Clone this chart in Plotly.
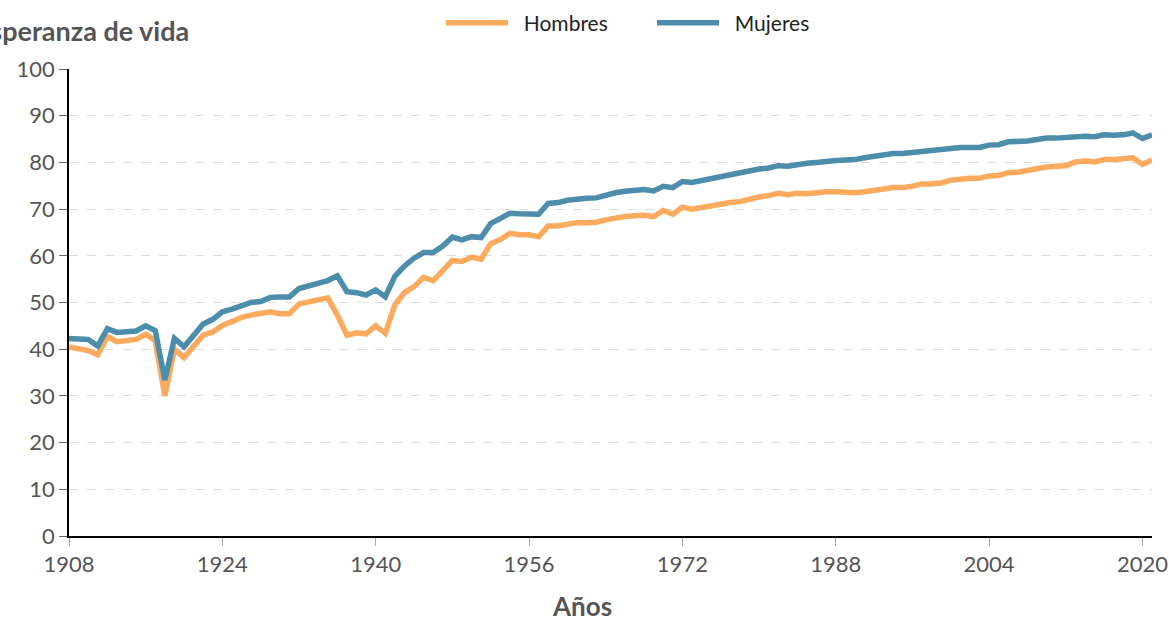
import plotly.graph_objects as go

years = list(range(1908, 2022))

hombres = [
    40.5, 40.0, 39.7, 38.8, 42.7, 41.6, 41.8, 42.1, 43.2, 41.8,   # 1908-1917
    30.0, 40.0, 38.2, 40.7, 43.0, 43.7, 45.1, 45.9, 46.8, 47.3,   # 1918-1927
    47.8, 48.0, 47.6, 47.6, 49.7, 50.2, 50.7, 51.0, 47.3, 43.0,   # 1928-1937
    43.5, 43.3, 45.0, 43.4, 49.5, 52.1, 53.4, 55.4, 54.7, 57.0,   # 1938-1947
    59.0, 58.8, 59.7, 59.3, 62.6, 63.5, 64.8, 64.5, 64.5, 64.1,   # 1948-1957
    66.4, 66.4, 66.7, 67.1, 67.1, 67.2, 67.7, 68.1, 68.4, 68.6,   # 1958-1967
    68.7, 68.4, 69.7, 68.9, 70.4, 70.0, 70.4, 70.7, 71.1, 71.4,   # 1968-1977
    71.6, 72.2, 72.6, 72.9, 73.4, 73.1, 73.4, 73.3, 73.6, 73.7,   # 1978-1987
    73.7, 73.5, 73.5, 73.7, 74.1, 74.3, 74.6, 74.6, 74.9, 75.4,   # 1988-1997
    75.4, 75.6, 76.2, 76.5, 76.6, 76.6, 77.1, 77.2, 77.8, 77.9,   # 1998-2007
    78.3, 78.6, 79.0, 79.2, 79.3, 80.1, 80.3, 80.1, 80.6, 80.6,   # 2008-2017
    80.8, 81.0, 79.6, 80.5,                                       # 2018-2021
]

mujeres = [
    42.3, 42.3, 42.1, 40.7, 44.4, 43.6, 43.7, 43.9, 45.0, 44.0,   # 1908-1917
    33.4, 42.3, 40.5, 43.0, 45.4, 46.4, 48.0, 48.6, 49.3, 50.0,   # 1918-1927
    50.2, 51.1, 51.2, 51.2, 53.0, 53.5, 54.2, 54.7, 55.7, 52.3,   # 1928-1937
    52.1, 51.6, 52.7, 51.2, 55.6, 57.8, 59.5, 60.7, 60.7, 62.1,   # 1938-1947
    64.0, 63.4, 64.1, 63.9, 66.9, 68.0, 69.1, 69.0, 69.0, 68.9,   # 1948-1957
    71.2, 71.4, 71.9, 72.2, 72.3, 72.4, 73.0, 73.5, 73.8, 74.0,   # 1958-1967
    74.2, 73.9, 74.9, 74.6, 75.9, 75.7, 76.1, 76.5, 77.1, 77.3,   # 1968-1977
    77.7, 78.2, 78.6, 78.8, 79.3, 79.2, 79.6, 79.8, 80.0, 80.3,   # 1978-1987
    80.4, 80.5, 80.6, 81.0, 81.3, 81.5, 81.9, 81.9, 82.1, 82.4,   # 1988-1997
    82.5, 82.7, 83.1, 83.2, 83.2, 83.2, 83.7, 83.8, 84.4, 84.4,   # 1998-2007
    84.6, 84.9, 85.2, 85.2, 85.3, 85.6, 85.6, 85.5, 85.9, 85.8,   # 2008-2017
    85.9, 86.3, 85.1, 85.9,                                       # 2018-2021
]

x_ticks = [1908, 1924, 1940, 1956, 1972, 1988, 2004, 2020]
y_ticks = [0, 10, 20, 30, 40, 50, 60, 70, 80, 90, 100]

FONT = "Lato, 'Open Sans', sans-serif"
W, H = 1169, 617
L, R, T, B = 69, 17, 69, 81

fig = go.Figure()
fig.add_trace(go.Scatter(x=years, y=hombres, mode="lines", name="\u00a0\u00a0Hombres",
                         line=dict(color="#FBAA5E", width=5.5)))
fig.add_trace(go.Scatter(x=years, y=mujeres, mode="lines", name="\u00a0\u00a0Mujeres",
                         line=dict(color="#4B8DAB", width=5.5)))

pw = W - L - R
ph = H - T - B

fig.update_layout(
    width=W, height=H,
    margin=dict(l=L, r=R, t=T, b=B, autoexpand=False),
    paper_bgcolor="white", plot_bgcolor="white",
    font=dict(family=FONT, color="#555555", size=20),
    legend=dict(orientation="h", xref="container", yref="container",
                x=652 / W, xanchor="center", y=1 - 23 / H, yanchor="middle",
                font=dict(family=FONT, size=21, color="#222222"),
                itemwidth=62, entrywidth=134),
    showlegend=True,
    xaxis=dict(range=[1908, 2021], tickmode="array", tickvals=x_ticks,
               ticktext=[str(v) for v in x_ticks],
               showline=True, linecolor="black", linewidth=1.5,
               ticks="outside", ticklen=8, tickcolor="#aaaaaa", tickwidth=1,
               showgrid=False, zeroline=False, automargin=False,
               tickfont=dict(size=22, color="#555555")),
    yaxis=dict(range=[0, 100], tickmode="array", tickvals=y_ticks,
               showline=True, linecolor="black", linewidth=1.5,
               ticks="outside", ticklen=8, tickcolor="#666666", tickwidth=1,
               showgrid=True, gridcolor="#dddddd", griddash="dash", gridwidth=1,
               zeroline=False, automargin=False,
               tickfont=dict(size=22, color="#555555")),
    annotations=[
        dict(text="<b>Esperanza de vida</b>", xref="paper", yref="paper",
             x=(191 - L) / pw, y=(H - B - 30) / ph, xanchor="right", yanchor="middle",
             showarrow=False, font=dict(family=FONT, size=27, color="#555555")),
        dict(text="<b>Años</b>", xref="paper", yref="paper",
             x=(582 - L) / pw, y=-(606 - (H - B)) / ph, xanchor="center", yanchor="middle",
             showarrow=False, font=dict(family=FONT, size=26, color="#555555")),
    ],
)

fig.write_html(
    "out.html",
    config={"displayModeBar": False},
    post_script="document.body.style.margin='0';document.body.style.overflow='hidden';",
)
